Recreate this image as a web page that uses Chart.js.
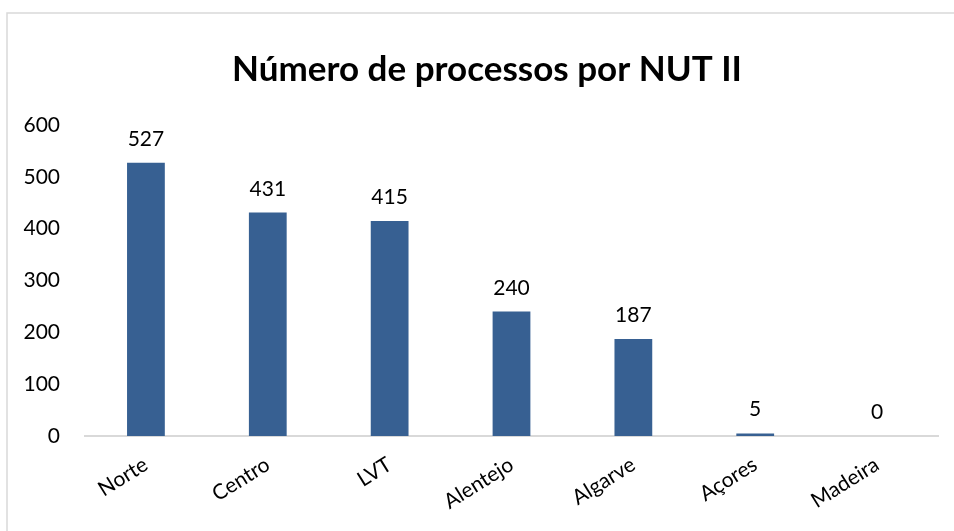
<!DOCTYPE html>
<html lang="pt">
<head>
    <meta charset="UTF-8">
    <title>Número de processos por NUT II</title>
    <script src="https://cdn.jsdelivr.net/npm/chart.js"></script>
    <style>
        html, body { margin: 0; padding: 0; background: #fff; }
        .chart-container { position: relative; width: 954px; height: 531px; }
    </style>
</head>
<body>
    <div class="chart-container">
        <canvas id="nutChart"></canvas>
    </div>
    <script>
        const regions = ['Norte', 'Centro', 'LVT', 'Alentejo', 'Algarve', 'Açores', 'Madeira'];
        const processos = [527, 431, 415, 240, 187, 5, 0];
        const yTicks = [0, 100, 200, 300, 400, 500, 600];
        const titleText = 'Número de processos por NUT II';

        // light frame of the chart object (only top and left edges visible) + title
        const framePlugin = {
            id: 'frame',
            beforeDraw(chart) {
                const c = chart.ctx;
                c.save();
                c.strokeStyle = '#d9d9d9';
                c.lineWidth = 1.5;
                c.strokeRect(7, 13, chart.width + 20, chart.height + 20);
                c.fillStyle = '#000';
                c.font = 'bold 35px Lato';
                c.textAlign = 'center';
                c.textBaseline = 'middle';
                c.fillText(titleText, 487, 70);
                c.restore();
            }
        };

        // value labels above bars
        const valueLabels = {
            id: 'valueLabels',
            afterDatasetsDraw(chart) {
                const c = chart.ctx;
                const meta = chart.getDatasetMeta(0);
                c.save();
                c.font = '21px Lato';
                c.fillStyle = '#000';
                c.textAlign = 'center';
                c.textBaseline = 'alphabetic';
                meta.data.forEach((bar, i) => {
                    c.fillText(String(processos[i]), bar.x, bar.y - 17);
                });
                c.restore();
            }
        };

        const ctx = document.getElementById('nutChart').getContext('2d');
        new Chart(ctx, {
            type: 'bar',
            data: {
                labels: regions,
                datasets: [{
                    data: processos,
                    backgroundColor: '#376092',
                    barPercentage: 0.31,
                    categoryPercentage: 1
                }]
            },
            options: {
                responsive: true,
                maintainAspectRatio: false,
                animation: false,
                layout: { padding: { left: 0, right: 16, top: 125, bottom: 0 } },
                plugins: {
                    legend: { display: false },
                    tooltip: { enabled: false },
                    title: { display: false }
                },
                scales: {
                    x: {
                        grid: { display: false },
                        border: { display: true, color: '#d9d9d9', width: 2 },
                        ticks: {
                            color: '#000',
                            font: { family: 'Lato', size: 21 },
                            minRotation: 32,
                            maxRotation: 32,
                            padding: 8
                        },
                        afterFit(scale) { scale.height = 95; }
                    },
                    y: {
                        min: 0,
                        max: 600,
                        grid: { display: false },
                        border: { display: false },
                        afterBuildTicks(scale) {
                            scale.ticks = yTicks.map(v => ({ value: v }));
                        },
                        ticks: {
                            color: '#000',
                            font: { family: 'Lato', size: 21 },
                            padding: 17
                        },
                        afterFit(scale) { scale.width = 85; }
                    }
                }
            },
            plugins: [framePlugin, valueLabels]
        });
    </script>
</body>
</html>
